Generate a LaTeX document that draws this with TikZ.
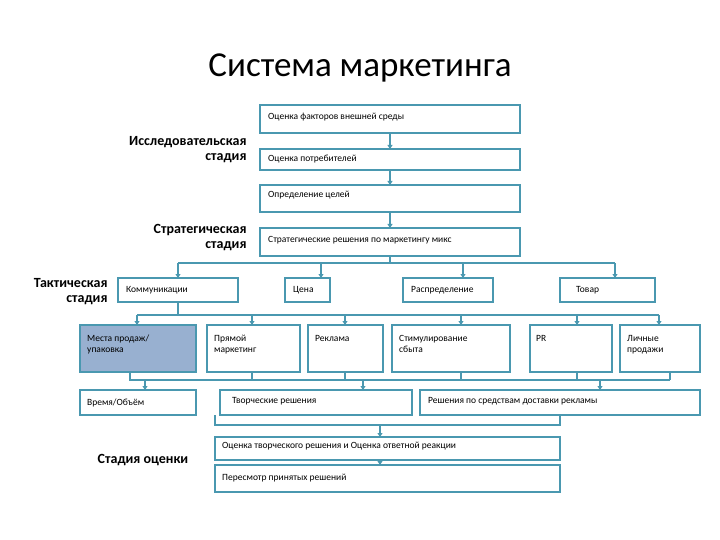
\documentclass[tikz,border=0pt]{standalone}
\usepackage{fontspec}
\setmainfont{Carlito}
\usetikzlibrary{arrows.meta}
\definecolor{ln}{HTML}{4A98B0}
\definecolor{sel}{HTML}{98B0D0}
\begin{document}
\begin{tikzpicture}[x=1pt,y=-1pt,
 bx/.style={draw=ln,line width=1.6pt,fill=white,inner sep=0pt},
 tx/.style={font=\fontsize{9.5}{11}\selectfont,anchor=north west,align=left,inner sep=0pt},
 lb/.style={font=\fontsize{14}{15}\selectfont\bfseries,align=right},
 cn/.style={draw=ln,line width=1.5pt},
 ar/.style={cn,-{Triangle[width=5pt,length=4pt]}}]
\useasboundingbox (0,0) rectangle (720,540);
\node[font=\fontsize{35}{37}\selectfont] (title) at (360,68) {Система маркетинга};
\draw[bx] (260,105) rectangle (520,133); \node[tx] (a) at (268,113) {Оценка факторов внешней среды};
\draw[bx] (260,149) rectangle (520,170); \node[tx] (b) at (268,155) {Оценка потребителей};
\draw[bx] (260,185) rectangle (520,212); \node[tx] (c) at (268,191) {Определение целей};
\draw[bx] (260,228) rectangle (520,256); \node[tx] (d) at (268,236) {Стратегические решения по маркетингу микс};
\draw[bx] (118,278) rectangle (238,302); \node[tx] (e1) at (126,286) {Коммуникации};
\draw[bx] (285,278) rectangle (330,302); \node[tx] (e2) at (293,286) {Цена};
\draw[bx] (403,278) rectangle (493,302); \node[tx] (e3) at (411,286) {Распределение};
\draw[bx] (560,278) rectangle (655,302); \node[tx] (e4) at (576,286) {Товар};
\draw[bx,fill=sel] (80,325) rectangle (196,372); \node[tx] (f1) at (87,335) {Места продаж/\\упаковка};
\draw[bx] (207,325) rectangle (300,372); \node[tx] (f2) at (214,335) {Прямой\\маркетинг};
\draw[bx] (308,325) rectangle (383,372); \node[tx] (f3) at (315,335) {Реклама};
\draw[bx] (392,325) rectangle (510,372); \node[tx] (f4) at (399,335) {Стимулирование\\сбыта};
\draw[bx] (530,325) rectangle (612,372); \node[tx] (f5) at (536,335) {PR};
\draw[bx] (620,325) rectangle (700,372); \node[tx] (f6) at (627,335) {Личные\\продажи};
\draw[bx] (80,390) rectangle (196,415); \node[tx] (g1) at (87,399) {Время/Объём};
\draw[bx] (220,390) rectangle (412,415); \node[tx] (g2) at (232,397) {Творческие решения};
\draw[bx] (420,390) rectangle (700,415); \node[tx] (g3) at (428,397) {Решения по средствам доставки рекламы};
\draw[bx] (215,437) rectangle (560,460); \node[tx] (h1) at (222,442) {Оценка творческого решения и Оценка ответной реакции};
\draw[bx] (215,465) rectangle (560,492); \node[tx] (h2) at (222,474) {Пересмотр принятых решений};
\node[lb,anchor=east] (l1) at (250,150) {Исследовательская\\стадия};
\node[lb,anchor=east] (l2) at (250,238) {Стратегическая\\стадия};
\node[lb,anchor=east] (l3) at (111,292) {Тактическая\\стадия};
\node[lb] (l4) at (143,460) {Стадия оценки};
\draw[ar] (390,133) -- (390,149);
\draw[ar] (390,170) -- (390,185);
\draw[ar] (390,212) -- (390,228);
\draw[cn] (390,256) -- (390,263);
\draw[cn] (178,263) -- (615,263);
\foreach \x in {178,321,463,615} \draw[ar] (\x,263) -- (\x,278);
\draw[cn] (178,302) -- (178,315);
\draw[cn] (137,315) -- (659,315);
\foreach \x in {137,252,345,461,577,659} \draw[ar] (\x,315) -- (\x,325);
\draw[cn] (130,372) -- (130,380) -- (670,380);
\foreach \x in {252,345,461,577,670} \draw[cn] (\x,372) -- (\x,380);
\foreach \x in {145,363,600} \draw[ar] (\x,380) -- (\x,390);
\draw[cn] (215,415) -- (215,425) -- (560,425) -- (560,415);
\draw[ar] (380,425) -- (380,437);
\draw[ar] (380,460) -- (380,465);
\end{tikzpicture}
\end{document}
